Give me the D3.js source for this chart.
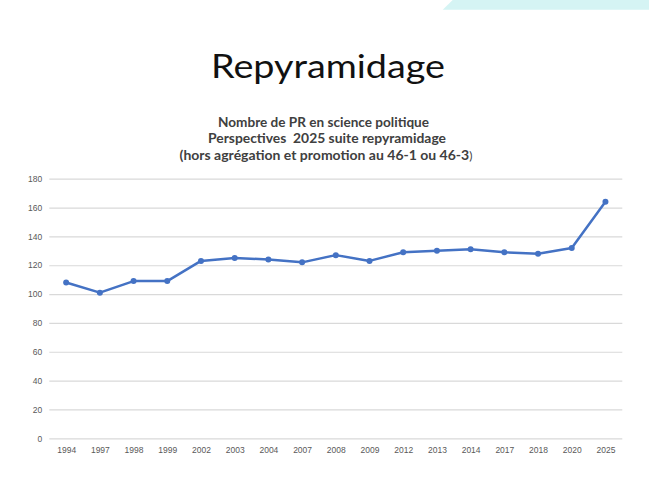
<!DOCTYPE html>
<html>
<head>
<meta charset="utf-8">
<script src="https://cdn.jsdelivr.net/npm/d3@7"></script>
<style>
  body { margin: 0; background: #fff; }
  svg { display: block; }
</style>
</head>
<body>
<script>
// categories and values
let years = ["1994", "1997", "1998", "1999", "2002", "2003", "2004", "2007", "2008",
             "2009", "2012", "2013", "2014", "2017", "2018", "2020", "2025"]
let counts = [108, 101, 109, 109, 123, 125, 124, 122, 127, 123, 129, 130, 131, 129, 128, 132, 164]
let yTicks = [0, 20, 40, 60, 80, 100, 120, 140, 160, 180]

let W = 649, H = 482
let margin = {top: 178.7, right: 26.7, bottom: 43.7, left: 49.3}
let width = W - margin.left - margin.right
let height = H - margin.top - margin.bottom

let svg = d3.select("body").append("svg")
  .attr("width", W)
  .attr("height", H)

// decorative band at top right of the slide
svg.append("path")
  .attr("d", "M452.7,0 L649,0 L649,9.7 L442.7,9.7 Z")
  .attr("fill", "#d5f4f4")

// slide title
svg.append("text")
  .attr("x", 328).attr("y", 78.3)
  .attr("text-anchor", "middle")
  .attr("font-family", "Lato, 'Open Sans', sans-serif")
  .attr("font-size", 33)
  .attr("fill", "#111")
  .attr("textLength", 234)
  .attr("lengthAdjust", "spacingAndGlyphs")
  .text("Repyramidage")

// chart title, three lines
let tfont = "Lato, 'Open Sans', sans-serif"
let t1 = svg.append("text").attr("x", 323.5).attr("y", 126.7)
  .attr("text-anchor", "middle").attr("font-family", tfont)
  .attr("font-size", 14).attr("font-weight", "bold").attr("fill", "#404040")
  .attr("textLength", 211).attr("lengthAdjust", "spacingAndGlyphs")
  .text("Nombre de PR en science politique")
let t2 = svg.append("text").attr("x", 327).attr("y", 143.3)
  .attr("text-anchor", "middle").attr("font-family", tfont)
  .attr("font-size", 14).attr("font-weight", "bold").attr("fill", "#404040")
  .attr("textLength", 238).attr("lengthAdjust", "spacingAndGlyphs")
  .style("white-space", "pre")
  .text("Perspectives  2025 suite repyramidage")
let t3 = svg.append("text").attr("x", 326).attr("y", 159.8)
  .attr("text-anchor", "middle").attr("font-family", tfont)
  .attr("font-size", 14).attr("fill", "#404040")
t3.append("tspan").attr("font-weight", "bold")
  .text("(hors agrégation et promotion au 46-1 ou 46-3")
t3.append("tspan").attr("font-size", 12).text(")")

let g = svg.append("g")
  .attr("transform", "translate(" + margin.left + "," + margin.top + ")")

// scales
let x = d3.scalePoint().domain(years).range([0, width]).padding(0.5)
let y = d3.scaleLinear().domain([0, 180]).range([height, 0])

// y axis with gridlines
let yAxis = g.append("g")
  .call(d3.axisLeft(y).tickValues(yTicks).tickSize(-width).tickPadding(7))
yAxis.select(".domain").remove()
yAxis.selectAll("line").attr("stroke", "#d9d9d9").attr("stroke-width", 1.2)
yAxis.selectAll("text")
  .attr("fill", "#595959")
  .attr("font-family", "'Liberation Sans', sans-serif")
  .attr("font-size", 8.5)

// x axis
let xAxis = g.append("g")
  .attr("transform", "translate(0," + height + ")")
  .call(d3.axisBottom(x).tickSize(0).tickPadding(8.5))
xAxis.select(".domain").remove()
xAxis.selectAll("text")
  .attr("fill", "#595959")
  .attr("font-family", "'Liberation Sans', sans-serif")
  .attr("font-size", 8.5)

let pts = years.map((d, i) => ({year: d, value: counts[i]}))

let valueline = d3.line()
  .x(d => x(d.year))
  .y(d => y(d.value))

g.append("path")
  .datum(pts)
  .attr("fill", "none")
  .attr("stroke", "#4472c4")
  .attr("stroke-width", 2.5)
  .attr("stroke-linejoin", "round")
  .attr("d", valueline)

g.selectAll("circle")
  .data(pts)
  .enter().append("circle")
  .attr("cx", d => x(d.year))
  .attr("cy", d => y(d.value))
  .attr("r", 3)
  .attr("fill", "#4472c4")
</script>
</body>
</html>
